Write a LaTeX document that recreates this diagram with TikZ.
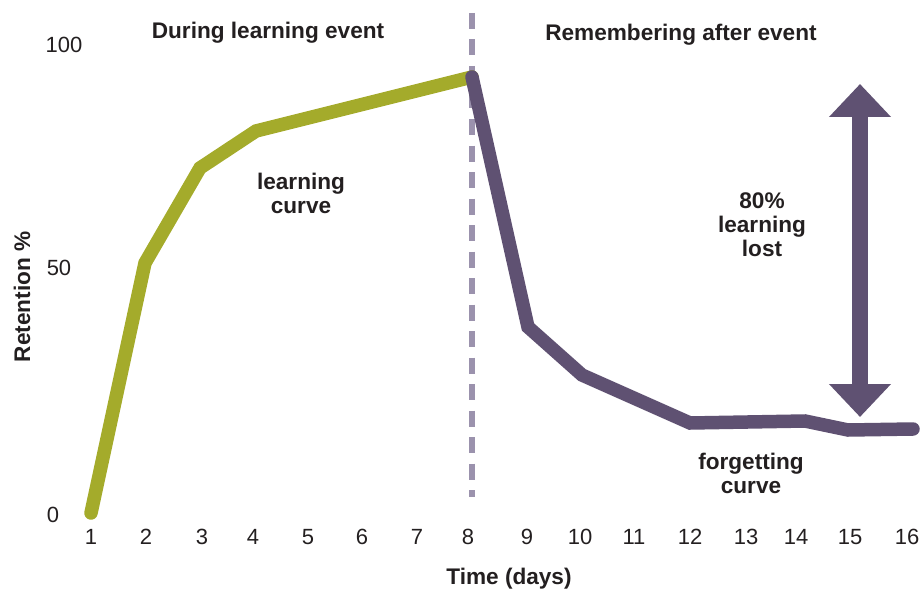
\documentclass[tikz,border=0pt]{standalone}
\usepackage{fontspec}
\setmainfont{Liberation Sans}
\usetikzlibrary{arrows.meta}
\definecolor{learngreen}{HTML}{A4AB2B}
\definecolor{forgetpurple}{HTML}{5F5172}
\definecolor{dashgray}{HTML}{9B92AD}
\definecolor{txt}{HTML}{231F20}
\begin{document}
\begin{tikzpicture}[x=1pt,y=-1pt,
  lbl/.style={font=\fontsize{22.6}{24}\selectfont\bfseries, text=txt, align=center, inner sep=0pt},
  num/.style={font=\fontsize{22}{24}\selectfont, text=txt, inner sep=0pt},
  curve/.style={line width=13.5pt, line cap=round, line join=miter}]
\path[use as bounding box] (0,0) rectangle (923,591);
% axis numbers
\node[num] (y100) at (64,45) {100};
\node[num] (y50) at (59,268) {50};
\node[num] (y0) at (53,515) {0};
\foreach \n/\x in {1/91,2/146,3/202,4/253,5/308,6/362,7/417,8/468,9/527,10/580,11/634,12/690,13/746,14/796,15/850,16/907}
  \node[num] (t\n) at (\x,537) {\n};
% axis titles
\node[lbl, rotate=90] (ytitle) at (22,297) {Retention \%};
\node[lbl] (xtitle) at (509,579) {Time (days)};
% section titles
\node[lbl] (during) at (268,33) {During learning event};
\node[lbl] (remember) at (681,35) {Remembering after event};
% dashed divider
\coordinate (dtop) at (472,13);
\coordinate (dbot) at (472,497);
\draw[dashgray, line width=5.5pt, dash pattern=on 16pt off 10.5pt] (dtop) -- (dbot);
% curve points
\coordinate (p1) at (91,513);
\coordinate (p2) at (145,263);
\coordinate (p3) at (200,168);
\coordinate (p4) at (256,131);
\coordinate (p8) at (472,77);
\coordinate (q9) at (528,327);
\coordinate (q10) at (582,375);
\coordinate (q12) at (690,423);
\coordinate (q14) at (805,421);
\coordinate (q15) at (848,430);
\coordinate (q16) at (913,429);
\draw[curve, learngreen] (p1) -- (p2) -- (p3) -- (p4) -- (p8);
\draw[curve, forgetpurple] (p8) -- (q9) -- (q10) -- (q12) -- (q14) -- (q15) -- (q16);
% curve labels
\node[lbl] (lc) at (301,193) {learning\\curve};
\node[lbl] (fc) at (751,473) {forgetting\\curve};
\node[lbl] (lost) at (762,225) {80\%\\learning\\lost};
% double arrow
\coordinate (atop) at (860,84);
\coordinate (abot) at (860,417);
\draw[forgetpurple, line width=16pt,
  {Triangle[width=60pt,length=33pt]}-{Triangle[width=60pt,length=33pt]}] (atop) -- (abot);
\end{tikzpicture}
\end{document}
